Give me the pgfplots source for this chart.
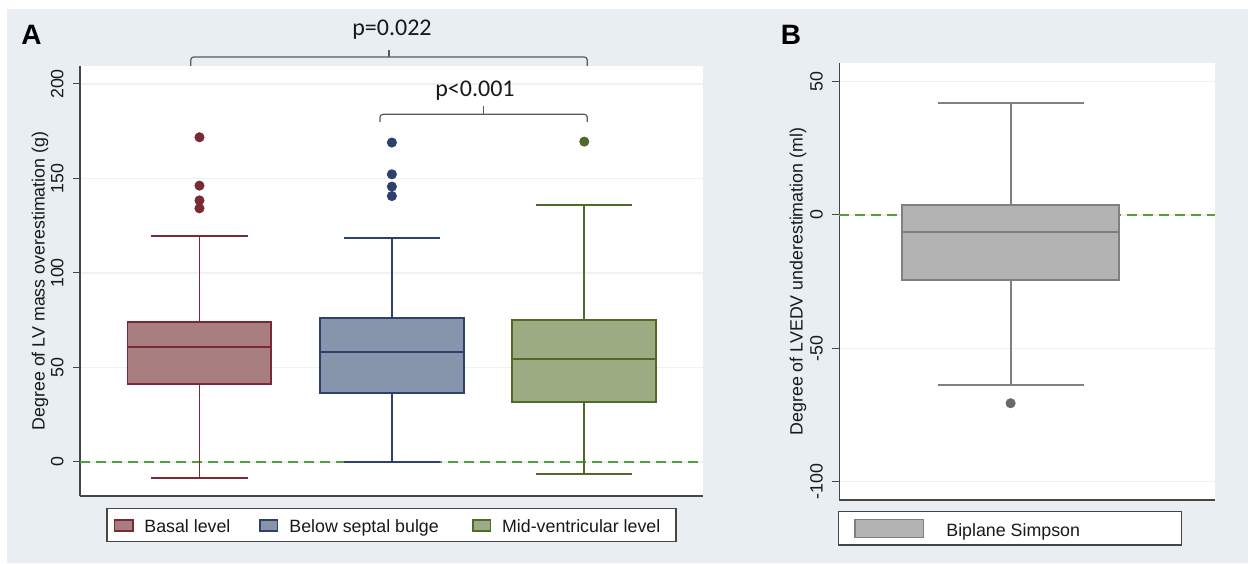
\documentclass[border=0pt]{standalone}
\usepackage{fontspec}
\setmainfont{Liberation Sans}
\newfontfamily\carlito{Carlito}
\usepackage{pgfplots}
\pgfplotsset{compat=1.18}
\usepgfplotslibrary{statistics}
\definecolor{bgc}{RGB}{232,238,241}
\definecolor{gridc}{RGB}{236,243,244}
\definecolor{axisc}{RGB}{70,70,70}
\definecolor{basalfill}{RGB}{168,126,129}
\definecolor{basaledge}{RGB}{122,42,50}
\definecolor{belowfill}{RGB}{134,148,172}
\definecolor{belowedge}{RGB}{46,64,108}
\definecolor{midfill}{RGB}{158,172,132}
\definecolor{midedge}{RGB}{80,106,40}
\definecolor{bfill}{RGB}{179,179,179}
\definecolor{bedge}{RGB}{128,128,128}
\definecolor{bout}{RGB}{106,106,106}
\definecolor{dashgreen}{RGB}{86,158,56}
\definecolor{brackc}{RGB}{90,90,90}
\definecolor{textc}{RGB}{25,25,25}
\begin{document}
\begin{tikzpicture}
\fill[white] (0,0) rectangle (624pt,281.5pt);
\fill[bgc] (3.5pt,0) rectangle (624pt,277pt);
\pgfplotsset{common/.style={
  scale only axis, anchor=south west,
  axis background/.style={fill=white},
  axis x line*=bottom, axis y line*=left,
  axis line style={-, draw=axisc, line width=0.6pt},
  xtick=\empty,
  tick align=outside, major tick length=3.5pt,
  tick style={draw=axisc, line width=0.5pt},
  ymajorgrids, grid style={draw=gridc, line width=0.6pt},
  yticklabel style={rotate=90, anchor=south, inner sep=0pt, text=textc},
  yticklabel shift=4.5pt,
  ylabel style={text=textc},
  /pgf/number format/assume math mode=true,
  font=\fontsize{8.9}{10.7}\selectfont,
  clip=false,
  boxplot/draw direction=y,
}}
% Panel A
\begin{axis}[common, at={(40pt,33.5pt)}, width=311.5pt, height=215pt,
  xmin=0.379, xmax=3.617, ymin=-18, ymax=209.5,
  ytick={0,50,100,150,200},
  ylabel={Degree of LV mass overestimation (g)},
  ylabel style={at={(axis description cs:-0.0642,0.5)}, anchor=center}]
\addplot[draw=dashgreen, line width=0.7pt, dash pattern=on 5pt off 3pt] coordinates {(0.379,0)(3.617,0)};
\addplot[draw=basaledge, fill=basalfill, line width=0.95pt,
  boxplot prepared={draw position=1, median=60.7, upper quartile=74.2, lower quartile=41.4,
  upper whisker=119.6, lower whisker=-8.6, box extend=0.748, whisker extend=0.5}] coordinates {};
\addplot[draw=belowedge, fill=belowfill, line width=0.95pt,
  boxplot prepared={draw position=2, median=58.0, upper quartile=76.0, lower quartile=36.7,
  upper whisker=118.7, lower whisker=0.2, box extend=0.748, whisker extend=0.5}] coordinates {};
\addplot[draw=midedge, fill=midfill, line width=0.95pt,
  boxplot prepared={draw position=3, median=54.5, upper quartile=75.1, lower quartile=31.9,
  upper whisker=135.8, lower whisker=-6.3, box extend=0.748, whisker extend=0.5}] coordinates {};
\addplot[only marks, mark=*, mark size=2.3pt, color=basaledge] coordinates {(1,171.8)(1,146.2)(1,138.4)(1,134.2)};
\addplot[only marks, mark=*, mark size=2.3pt, color=belowedge] coordinates {(2,169.0)(2,152.2)(2,145.7)(2,140.7)};
\addplot[only marks, mark=*, mark size=2.3pt, color=midedge] coordinates {(3,169.5)};
\end{axis}
% Panel B
\begin{axis}[common, at={(419.65pt,31.5pt)}, width=187.85pt, height=218.35pt,
  xmin=0, xmax=1, ymin=-106.9, ymax=56.9,
  ytick={-100,-50,0,50},
  ylabel={Degree of LVEDV underestimation (ml)},
  ylabel style={at={(axis description cs:-0.1099,0.5)}, anchor=center}]
\addplot[draw=dashgreen, line width=0.7pt, dash pattern=on 5pt off 3pt] coordinates {(0,0)(1,0)};
\addplot[draw=bedge, fill=bfill, line width=0.95pt,
  boxplot prepared={draw position=0.456, median=-6.25, upper quartile=3.75, lower quartile=-24.4,
  upper whisker=42.1, lower whisker=-63.6, box extend=0.579, whisker extend=0.388}] coordinates {};
\addplot[only marks, mark=*, mark size=2.3pt, color=bout] coordinates {(0.456,-70.6)};
\end{axis}
% annotations in pixel coordinates
\begin{scope}[x=0.5pt, y=-0.5pt, yshift=281.5pt]
\node[anchor=base west, inner sep=0, font=\fontsize{14}{16}\selectfont\bfseries] at (21,45) {A};
\node[anchor=base west, inner sep=0, font=\fontsize{14}{16}\selectfont\bfseries] at (780.5,45) {B};
\draw[brackc, line width=0.6pt, rounded corners=1.5pt] (190.7,66) -- (190.7,57) -- (587.3,57) -- (587.3,66);
\draw[brackc, line width=0.6pt] (389,57) -- (389,50);
\draw[brackc, line width=0.6pt, rounded corners=1.5pt] (380,122) -- (380,114.3) -- (587.3,114.3) -- (587.3,122);
\draw[brackc, line width=0.6pt] (483.3,114.3) -- (483.3,106);
\node[anchor=base, inner sep=0, text=textc, font=\carlito\fontsize{12}{14}\selectfont] at (392,36) {p=0.022};
\node[anchor=base, inner sep=0, text=textc, font=\carlito\fontsize{12}{14}\selectfont] at (475,96.7) {p<0.001};
% legend A
\begin{scope}[font=\fontsize{8.9}{10.7}\selectfont, text=textc]
\draw[axisc, line width=0.6pt, fill=white] (107,508.7) rectangle (676,541.7);
\draw[basaledge, fill=basalfill, line width=0.8pt] (114.3,520) rectangle (132.7,530.7);
\node[anchor=base west, inner sep=0] at (144,532) {Basal level};
\draw[belowedge, fill=belowfill, line width=0.8pt] (260,520) rectangle (277.5,530.7);
\node[anchor=base west, inner sep=0] at (289,532) {Below septal bulge};
\draw[midedge, fill=midfill, line width=0.8pt] (472.7,520) rectangle (490.3,530.7);
\node[anchor=base west, inner sep=0] at (501.7,532) {Mid-ventricular level};
% legend B
\draw[axisc, line width=0.6pt, fill=white] (838.7,511.7) rectangle (1181.7,545);
\draw[bedge, fill=bfill, line width=0.8pt] (855,519.3) rectangle (923.3,537.3);
\node[anchor=base west, inner sep=0] at (946,536) {Biplane Simpson};
\end{scope}
\end{scope}
\end{tikzpicture}
\end{document}
